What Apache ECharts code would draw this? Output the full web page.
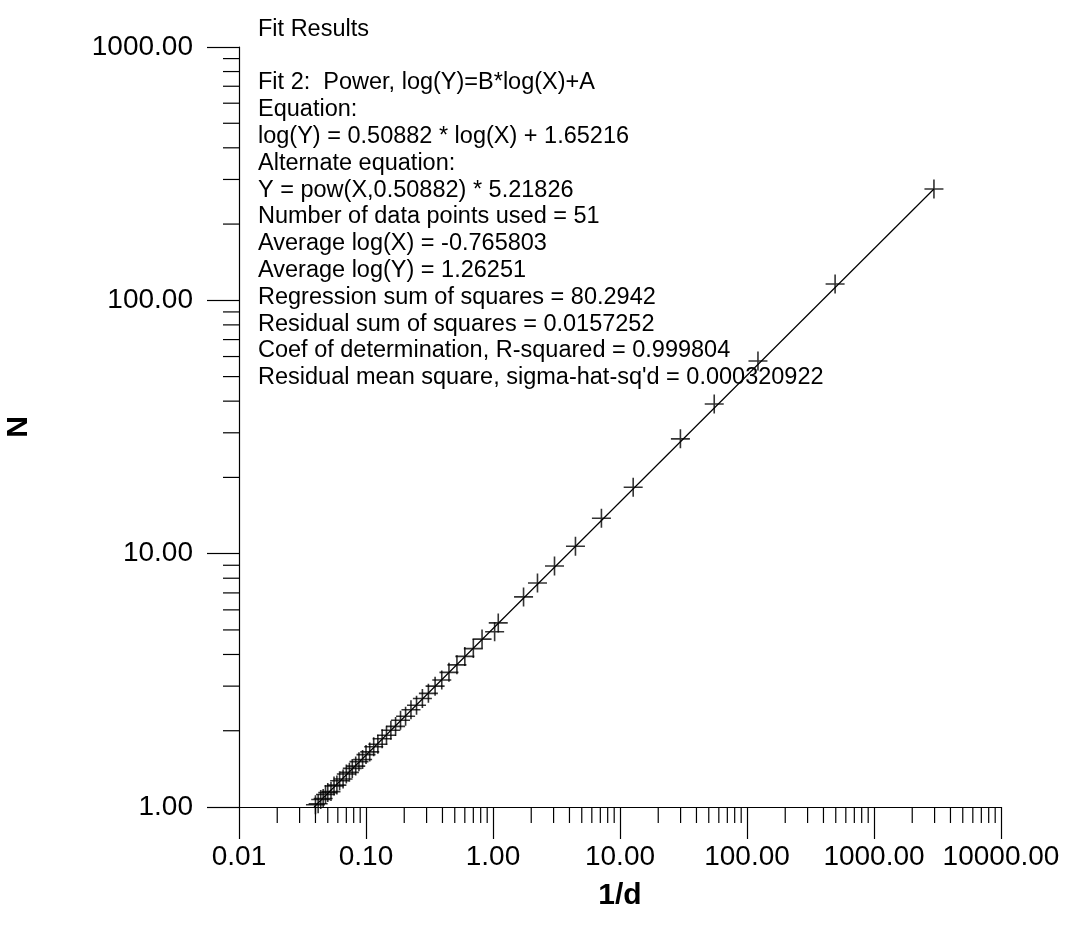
<!DOCTYPE html>
<html>
<head>
<meta charset="utf-8">
<style>
  html, body { margin: 0; padding: 0; background: #fff; }
  #chart { width: 1067px; height: 927px; }
</style>
<script src="https://cdn.jsdelivr.net/npm/echarts@6/dist/echarts.min.js"></script>
</head>
<body>
<div id="chart"></div>
<script>
// measured points, 1/d against N
var invD = [0.040, 0.042, 0.044, 0.046, 0.048, 0.050, 0.053, 0.056, 0.059, 0.062,
            0.066, 0.070, 0.074, 0.078, 0.083, 0.088, 0.094, 0.100, 0.107, 0.115,
            0.124, 0.134, 0.145, 0.157, 0.171, 0.187, 0.205, 0.226, 0.250, 0.278,
            0.310, 0.350, 0.395, 0.450, 0.52, 0.60, 0.70, 0.82, 1.03, 1.10,
            1.74, 2.24, 3.05, 4.46, 7.14, 12.7, 29.9, 55.2, 122, 494, 2965];
var countN = [1.02, 1.03, 1.07, 1.08, 1.12, 1.14, 1.15, 1.21, 1.22, 1.27,
              1.29, 1.35, 1.37, 1.42, 1.45, 1.51, 1.54, 1.61, 1.65, 1.73,
              1.77, 1.86, 1.92, 2.01, 2.08, 2.20, 2.28, 2.42, 2.52, 2.68,
              2.81, 3.00, 3.17, 3.40, 3.64, 3.93, 4.22, 4.60, 4.92, 5.33,
              6.75, 7.66, 8.94, 10.7, 13.8, 18.3, 28.4, 39.0, 57.6, 116, 275];

// fitted power line, end points
var fitX = [0.039, 2965];
var fitY = [1.0, 275];

// axis decades and the minor steps inside each decade
var xDecades = [0.01, 0.1, 1, 10, 100, 1000];
var yDecades = [1, 10, 100];
var minorSteps = [2, 3, 4, 5, 6, 7, 8, 9];

var fitText = [
  'Fit Results',
  '',
  'Fit 2:  Power, log(Y)=B*log(X)+A',
  'Equation:',
  'log(Y) = 0.50882 * log(X) + 1.65216',
  'Alternate equation:',
  'Y = pow(X,0.50882) * 5.21826',
  'Number of data points used = 51',
  'Average log(X) = -0.765803',
  'Average log(Y) = 1.26251',
  'Regression sum of squares = 80.2942',
  'Residual sum of squares = 0.0157252',
  'Coef of determination, R-squared = 0.999804',
  "Residual mean square, sigma-hat-sq'd = 0.000320922"
];

var points = [];
for (var i = 0; i < invD.length; i++) {
  points.push([invD[i], countN[i]]);
}
var fitLine = [];
for (var i = 0; i < fitX.length; i++) {
  fitLine.push([fitX[i], fitY[i]]);
}

var xMinor = [], yMinor = [];
xDecades.forEach(function (d) {
  minorSteps.forEach(function (s) { xMinor.push([d * s, 1]); });
});
yDecades.forEach(function (d) {
  minorSteps.forEach(function (s) { yMinor.push([0.01, d * s]); });
});

var font = '"Liberation Sans", Arial, sans-serif';
var tickLen = 32, minorLen = 16;

var chart = echarts.init(document.getElementById('chart'));
chart.setOption({
  animation: false,
  backgroundColor: '#fff',
  grid: { left: 239, top: 47, right: 66, bottom: 120, containLabel: false, outerBoundsMode: 'none' },
  graphic: [{
    type: 'text',
    left: 258,
    top: 16,
    style: {
      text: fitText.join('\n'),
      fontFamily: font,
      fontSize: 23.5,
      lineHeight: 26.8,
      fill: '#000'
    }
  }],
  xAxis: {
    type: 'log',
    logBase: 10,
    min: 0.01,
    max: 10000,
    name: '1/d',
    nameLocation: 'middle',
    nameGap: 74,
    nameTextStyle: { color: '#000', fontFamily: font, fontSize: 30, fontWeight: 'bold' },
    axisLine: { show: true, lineStyle: { color: '#000', width: 1.2 } },
    axisTick: { show: true, length: tickLen, lineStyle: { color: '#000', width: 1.2 } },
    axisLabel: {
      color: '#000', fontFamily: font, fontSize: 28, margin: 36,
      formatter: function (v) { return v.toFixed(2); }
    },
    splitLine: { show: false }
  },
  yAxis: {
    type: 'log',
    logBase: 10,
    min: 1,
    max: 1000,
    name: 'N',
    nameLocation: 'middle',
    nameRotate: 90,
    nameGap: 205,
    nameTextStyle: { color: '#000', fontFamily: font, fontSize: 30, fontWeight: 'bold' },
    axisLine: { show: true, lineStyle: { color: '#000', width: 1.2 } },
    axisTick: { show: true, length: tickLen, lineStyle: { color: '#000', width: 1.2 } },
    axisLabel: {
      color: '#000', fontFamily: font, fontSize: 28, margin: 46,
      formatter: function (v) { return v.toFixed(2); }
    },
    splitLine: { show: false }
  },
  series: [
    {
      type: 'line',
      data: fitLine,
      symbol: 'none',
      lineStyle: { color: '#000', width: 1.2 },
      z: 3
    },
    {
      type: 'scatter',
      data: points,
      symbol: 'path://M0,10L20,10M10,0L10,20',
      symbolSize: 19,
      itemStyle: { color: 'transparent', borderColor: '#000', borderWidth: 1.6 },
      clip: false,
      z: 4
    },
    {
      type: 'custom',
      data: xMinor,
      clip: false,
      renderItem: function (params, api) {
        var p = api.coord([api.value(0), api.value(1)]);
        return {
          type: 'line',
          shape: { x1: p[0], y1: p[1], x2: p[0], y2: p[1] + minorLen },
          style: { stroke: '#000', lineWidth: 1.2 }
        };
      }
    },
    {
      type: 'custom',
      data: yMinor,
      clip: false,
      renderItem: function (params, api) {
        var p = api.coord([api.value(0), api.value(1)]);
        return {
          type: 'line',
          shape: { x1: p[0] - minorLen, y1: p[1], x2: p[0], y2: p[1] },
          style: { stroke: '#000', lineWidth: 1.2 }
        };
      }
    }
  ]
});
</script>
</body>
</html>
